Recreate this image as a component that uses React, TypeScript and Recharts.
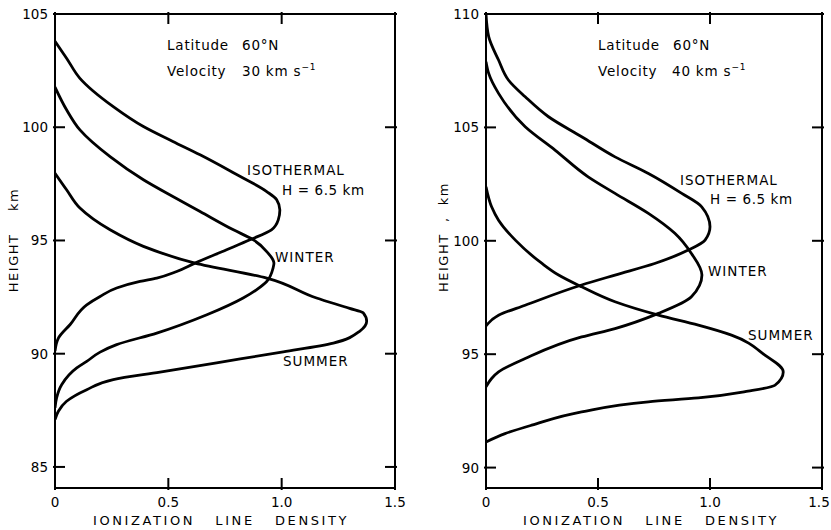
import { ScatterChart, Scatter, XAxis, YAxis } from 'recharts'

const FONT = '"DejaVu Sans", sans-serif'

const X_TICKS = [0, 0.5, 1, 1.5]
const LEFT_H_TICKS = [85, 90, 95, 100, 105]
const RIGHT_H_TICKS = [90, 95, 100, 105, 110]

// 30 km/s panel: height (km) vs ionization line density, read bottom to top
const iso30 = [
  { h: 90.12, v: 0 }, { h: 90.69, v: 0.015 }, { h: 91.28, v: 0.066 }, { h: 92.16, v: 0.14 },
  { h: 92.53, v: 0.199 }, { h: 92.9, v: 0.272 }, { h: 93.19, v: 0.375 }, { h: 93.34, v: 0.449 },
  { h: 93.63, v: 0.537 }, { h: 94.0, v: 0.618 }, { h: 94.59, v: 0.757 }, { h: 95.03, v: 0.86 },
  { h: 95.47, v: 0.955 }, { h: 95.91, v: 0.985 }, { h: 96.35, v: 0.992 }, { h: 96.8, v: 0.978 },
  { h: 97.16, v: 0.934 }, { h: 97.99, v: 0.787 }, { h: 98.78, v: 0.64 }, { h: 99.37, v: 0.52 },
  { h: 100.03, v: 0.39 }, { h: 100.91, v: 0.257 }, { h: 102.16, v: 0.11 }, { h: 103.05, v: 0.051 },
  { h: 103.8, v: 0 },
]
const winter30 = [
  { h: 87.61, v: 0 }, { h: 88.05, v: 0.007 }, { h: 88.64, v: 0.03 }, { h: 89.37, v: 0.096 },
  { h: 89.66, v: 0.14 }, { h: 90.07, v: 0.199 }, { h: 90.4, v: 0.272 }, { h: 90.91, v: 0.449 },
  { h: 91.72, v: 0.67 }, { h: 92.46, v: 0.83 }, { h: 92.83, v: 0.89 }, { h: 93.19, v: 0.934 },
  { h: 93.78, v: 0.962 }, { h: 94.0, v: 0.966 }, { h: 94.51, v: 0.934 }, { h: 95.03, v: 0.875 },
  { h: 95.47, v: 0.787 }, { h: 96.28, v: 0.64 }, { h: 96.94, v: 0.52 }, { h: 97.68, v: 0.39 },
  { h: 98.7, v: 0.243 }, { h: 99.88, v: 0.11 }, { h: 100.77, v: 0.051 }, { h: 101.77, v: 0 },
]
const summer30 = [
  { h: 87.09, v: 0 }, { h: 87.46, v: 0.015 }, { h: 87.9, v: 0.051 }, { h: 88.41, v: 0.14 },
  { h: 88.86, v: 0.257 }, { h: 89.19, v: 0.463 }, { h: 89.6, v: 0.713 }, { h: 90.08, v: 1.007 },
  { h: 90.47, v: 1.228 }, { h: 91.0, v: 1.345 }, { h: 91.43, v: 1.375 }, { h: 91.8, v: 1.36 },
  { h: 92.0, v: 1.3 }, { h: 92.46, v: 1.154 }, { h: 93.34, v: 0.934 }, { h: 94.0, v: 0.618 },
  { h: 94.74, v: 0.39 }, { h: 95.47, v: 0.243 }, { h: 96.43, v: 0.11 }, { h: 97.24, v: 0.051 },
  { h: 97.97, v: 0 },
]

// 40 km/s panel
const iso40 = [
  { h: 96.25, v: 0 }, { h: 96.72, v: 0.056 }, { h: 97.16, v: 0.175 }, { h: 98.05, v: 0.427 },
  { h: 98.49, v: 0.576 }, { h: 99.0, v: 0.753 }, { h: 99.59, v: 0.903 }, { h: 100.03, v: 0.978 },
  { h: 100.62, v: 1.0 }, { h: 101.5, v: 0.963 }, { h: 102.09, v: 0.874 }, { h: 102.97, v: 0.725 },
  { h: 103.7, v: 0.576 }, { h: 104.59, v: 0.427 }, { h: 105.47, v: 0.279 }, { h: 106.35, v: 0.175 },
  { h: 107.09, v: 0.1 }, { h: 107.97, v: 0.056 }, { h: 109.0, v: 0.012 }, { h: 110, v: 0 },
]
const winter40 = [
  { h: 93.56, v: 0 }, { h: 93.93, v: 0.025 }, { h: 94.22, v: 0.056 }, { h: 94.81, v: 0.175 },
  { h: 95.76, v: 0.427 }, { h: 96.13, v: 0.576 }, { h: 96.8, v: 0.77 }, { h: 97.53, v: 0.917 },
  { h: 98.49, v: 0.964 }, { h: 99.44, v: 0.917 }, { h: 100.33, v: 0.843 }, { h: 101.21, v: 0.725 },
  { h: 102.09, v: 0.576 }, { h: 102.82, v: 0.456 }, { h: 104.0, v: 0.308 }, { h: 105.03, v: 0.175 },
  { h: 106.5, v: 0.056 }, { h: 107.38, v: 0.012 }, { h: 107.9, v: 0 },
]
const summer40 = [
  { h: 91.13, v: 0 }, { h: 91.5, v: 0.085 }, { h: 91.87, v: 0.204 }, { h: 92.46, v: 0.427 },
  { h: 92.9, v: 0.725 }, { h: 93.07, v: 0.948 }, { h: 93.37, v: 1.17 }, { h: 93.63, v: 1.29 },
  { h: 94.22, v: 1.327 }, { h: 94.96, v: 1.245 }, { h: 95.84, v: 1.096 }, { h: 96.28, v: 0.948 },
  { h: 96.72, v: 0.77 }, { h: 97.31, v: 0.576 }, { h: 97.97, v: 0.427 }, { h: 98.49, v: 0.324 },
  { h: 99.0, v: 0.25 }, { h: 100.03, v: 0.131 }, { h: 100.91, v: 0.056 }, { h: 101.5, v: 0.025 },
  { h: 102.38, v: 0 },
]

const fmtX = (v: number) => (v === 0 ? '0' : v.toFixed(1))
const frame = { stroke: '#000', strokeWidth: 2 }
const tickText = { fontFamily: FONT, fontSize: 13.5, fill: '#000' }
const TICK_LEN = 12

// ticks point into the plot box, labels sit outside it
function BottomTick({ x, y, payload, maxX }: any) {
  return (
    <g>
      <line x1={x} y1={y} x2={x} y2={y - TICK_LEN} {...frame} />
      <text x={Math.min(x, maxX)} y={y + 17} textAnchor="middle" style={tickText}>
        {fmtX(payload.value)}
      </text>
    </g>
  )
}
function TopTick({ x, y }: any) {
  return <line x1={x} y1={y} x2={x} y2={y + TICK_LEN} {...frame} />
}
function LeftTick({ x, y, payload }: any) {
  return (
    <g>
      <line x1={x} y1={y} x2={x + TICK_LEN} y2={y} {...frame} />
      <text x={x - 5} y={y + 5} textAnchor="end" style={tickText}>{payload.value}</text>
    </g>
  )
}
function RightTick({ x, y }: any) {
  return <line x1={x} y1={y} x2={x - TICK_LEN} y2={y} {...frame} />
}

interface PanelProps {
  left: number
  width: number
  margin: { top: number; right: number; bottom: number; left: number }
  hDomain: [number, number]
  hTicks: number[]
  curves: { h: number; v: number }[][]
}

function Panel({ left, width, margin, hDomain, hTicks, curves }: PanelProps) {
  const maxX = width - 12
  return (
    <div style={{ position: 'absolute', left, top: 0 }}>
      <ScatterChart width={width} height={530} margin={margin}>
        <XAxis
          xAxisId="b"
          type="number"
          dataKey="v"
          domain={[0, 1.5]}
          ticks={X_TICKS}
          interval={0}
          allowDataOverflow
          height={1}
          tickSize={0}
          tickLine={false}
          tick={(p: any) => <BottomTick {...p} maxX={maxX} />}
          axisLine={frame}
        />
        <XAxis
          xAxisId="t"
          orientation="top"
          type="number"
          dataKey="v"
          domain={[0, 1.5]}
          ticks={X_TICKS}
          interval={0}
          allowDataOverflow
          height={1}
          tickSize={0}
          tickLine={false}
          tick={(p: any) => <TopTick {...p} />}
          axisLine={frame}
        />
        <YAxis
          yAxisId="l"
          type="number"
          dataKey="h"
          domain={hDomain}
          ticks={hTicks}
          interval={0}
          allowDataOverflow
          width={1}
          tickSize={0}
          tickLine={false}
          tick={(p: any) => <LeftTick {...p} />}
          axisLine={frame}
        />
        <YAxis
          yAxisId="r"
          orientation="right"
          type="number"
          dataKey="h"
          domain={hDomain}
          ticks={hTicks}
          interval={0}
          allowDataOverflow
          width={1}
          tickSize={0}
          tickLine={false}
          tick={(p: any) => <RightTick {...p} />}
          axisLine={frame}
        />
        {curves.map((c, i) => (
          <Scatter
            key={i}
            data={c}
            dataKey="v"
            xAxisId="b"
            yAxisId="l"
            line={{ stroke: '#000', strokeWidth: 2.8, fill: 'none' }}
            lineJointType="monotoneY"
            shape={() => <g />}
            isAnimationActive={false}
          />
        ))}
      </ScatterChart>
    </div>
  )
}

const txt = { fontFamily: FONT, fontSize: 13.5, fill: '#000', whiteSpace: 'pre' as const }

function Notes({ dx, numX, speed, iso, isoH, winter, summer }: {
  dx: number
  numX: number
  speed: string
  iso: [number, number]
  isoH: [number, number]
  winter: [number, number]
  summer: [number, number]
}) {
  return (
    <g>
      <text x={dx} y={50} style={{ ...txt, letterSpacing: 0.8 }}>Latitude</text>
      <text x={dx + 75} y={50} style={{ ...txt, letterSpacing: 0.8 }}>60°N</text>
      <text x={dx} y={76} style={{ ...txt, letterSpacing: 0.8 }}>Velocity</text>
      <text x={numX} y={76} style={{ ...txt, letterSpacing: 0.8 }}>
        {speed} km s<tspan dy={-6} fontSize={9}>−1</tspan>
      </text>
      <text x={iso[0]} y={iso[1]} style={{ ...txt, letterSpacing: 1 }}>ISOTHERMAL</text>
      <text x={isoH[0]} y={isoH[1]} style={{ ...txt, letterSpacing: 0.6 }}>H = 6.5 km</text>
      <text x={winter[0]} y={winter[1]} style={{ ...txt, letterSpacing: 1 }}>WINTER</text>
      <text x={summer[0]} y={summer[1]} style={{ ...txt, letterSpacing: 1 }}>SUMMER</text>
    </g>
  )
}

export default function App() {
  return (
    <div style={{ position: 'absolute', left: 0, top: 0, width: 831, height: 530, background: '#fff' }}>
      <Panel
        left={0}
        width={415}
        margin={{ top: 13, right: 19, bottom: 41, left: 54 }}
        hDomain={[84.07, 105]}
        hTicks={LEFT_H_TICKS}
        curves={[iso30, winter30, summer30]}
      />
      <Panel
        left={415}
        width={416}
        margin={{ top: 13, right: 8, bottom: 41, left: 70 }}
        hDomain={[89.1, 110]}
        hTicks={RIGHT_H_TICKS}
        curves={[iso40, winter40, summer40]}
      />
      <svg width={831} height={530} style={{ position: 'absolute', left: 0, top: 0, pointerEvents: 'none' }}>
        <Notes dx={167} numX={242} speed="30" iso={[247, 175]} isoH={[282, 195]} winter={[275, 262]} summer={[283, 366]} />
        <Notes dx={598} numX={672} speed="40" iso={[680, 185]} isoH={[710, 204]} winter={[708, 276]} summer={[748, 340]} />
        <text x={93} y={525} style={{ ...txt, fontSize: 13, letterSpacing: 2.6 }}>IONIZATION   LINE   DENSITY</text>
        <text x={523} y={525} style={{ ...txt, fontSize: 13, letterSpacing: 2.6 }}>IONIZATION   LINE   DENSITY</text>
        <text x={18} y={240} textAnchor="middle" transform="rotate(-90 18 240)" style={{ ...txt, fontSize: 13, letterSpacing: 1.5 }}>
          HEIGHT    km
        </text>
        <text x={448} y={237} textAnchor="middle" transform="rotate(-90 448 237)" style={{ ...txt, fontSize: 13, letterSpacing: 1.5 }}>
          HEIGHT  ,  km
        </text>
      </svg>
    </div>
  )
}
